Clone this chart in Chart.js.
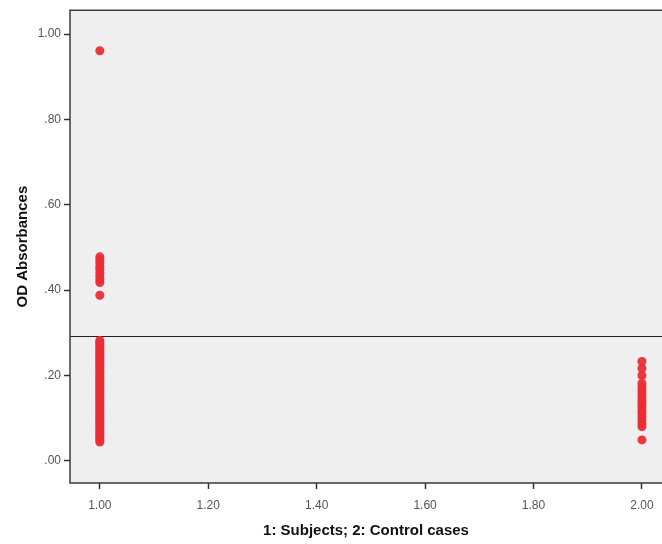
<!DOCTYPE html>
<html>
<head>
<meta charset="utf-8">
<script src="https://cdn.jsdelivr.net/npm/chart.js@4"></script>
<style>
  body { margin: 0; background: #ffffff; }
  canvas { display: block; }
</style>
</head>
<body>
<canvas id="grafica" width="662" height="544"></canvas>
<script>
// valores
const gruposX = [1, 2];
const sujetos = [0.961, 0.478, 0.472, 0.465, 0.456, 0.449, 0.441, 0.433, 0.425, 0.418, 0.388,
  0.282, 0.278, 0.273, 0.268, 0.263, 0.258, 0.254, 0.249, 0.245, 0.240, 0.236, 0.231, 0.226,
  0.222, 0.218, 0.213, 0.209, 0.204, 0.199, 0.195, 0.191, 0.186, 0.181, 0.177, 0.172, 0.168,
  0.163, 0.158, 0.154, 0.149, 0.145, 0.141, 0.136, 0.131, 0.127, 0.122, 0.118, 0.113, 0.108,
  0.104, 0.099, 0.095, 0.090, 0.086, 0.081, 0.077, 0.072, 0.067, 0.063, 0.058, 0.054, 0.049, 0.044];
const controles = [0.233, 0.217, 0.200, 0.182, 0.173, 0.165, 0.158, 0.150, 0.142,
  0.135, 0.127, 0.119, 0.112, 0.104, 0.096, 0.088, 0.080, 0.049];
const lineaCorte = 0.292;
const ticksY = [0, 0.2, 0.4, 0.6, 0.8, 1.0];
const ticksX = [1.0, 1.2, 1.4, 1.6, 1.8, 2.0];

const puntos = [
  ...sujetos.map((v) => ({ x: gruposX[0], y: v })),
  ...controles.map((v) => ({ x: gruposX[1], y: v })),
];

const fuente = "'Liberation Sans', Arial, sans-serif";

const fondo = {
  id: "fondo",
  beforeDatasetsDraw(chart) {
    const { ctx, chartArea: a, scales } = chart;
    ctx.save();
    ctx.fillStyle = "#efefef";
    ctx.fillRect(a.left, a.top, a.right - a.left, a.bottom - a.top);
    // linea de referencia
    const yl = Math.round(scales.y.getPixelForValue(lineaCorte)) + 0.5;
    ctx.strokeStyle = "#222";
    ctx.lineWidth = 1;
    ctx.beginPath();
    ctx.moveTo(a.left, yl);
    ctx.lineTo(a.right, yl);
    ctx.stroke();
    ctx.restore();
  },
  afterDraw(chart) {
    const { ctx, chartArea: a } = chart;
    ctx.save();
    ctx.strokeStyle = "#3a3a3a";
    ctx.lineWidth = 1.5;
    ctx.beginPath();
    ctx.moveTo(a.right, a.top);
    ctx.lineTo(a.left, a.top);
    ctx.lineTo(a.left, a.bottom);
    ctx.lineTo(a.right, a.bottom);
    ctx.stroke();
    ctx.restore();
  },
};

let ctx = document.getElementById("grafica").getContext("2d");
let grafica = new Chart(ctx, {
  type: "scatter",
  data: {
    datasets: [
      {
        data: puntos,
        backgroundColor: "rgba(236, 44, 52, 0.95)",
        borderWidth: 0,
        pointRadius: 4.5,
      },
    ],
  },
  options: {
    responsive: false,
    animation: false,
    layout: { autoPadding: false, padding: { top: 8, right: 0, left: 0, bottom: 0 } },
    plugins: { legend: { display: false }, tooltip: { enabled: false } },
    scales: {
      x: {
        type: "linear",
        min: 0.945,
        max: 2.037,
        afterBuildTicks: (s) => { s.ticks = ticksX.map((v) => ({ value: v })); },
        afterFit: (s) => { s.height = 61; s.paddingLeft = 0; s.paddingRight = 0; },
        grid: { drawOnChartArea: false, tickLength: 6, color: "#333", tickWidth: 1.5 },
        border: { display: false },
        ticks: {
          color: "#555",
          font: { family: fuente, size: 12 },
          padding: 9,
          maxRotation: 0,
          callback: (v) => v.toFixed(2),
        },
        title: {
          display: true,
          text: "1: Subjects; 2: Control cases",
          color: "#111",
          font: { family: fuente, size: 15, weight: "bold" },
          padding: { top: 8 },
        },
      },
      y: {
        min: -0.052,
        max: 1.056,
        afterBuildTicks: (s) => { s.ticks = ticksY.map((v) => ({ value: v })); },
        afterFit: (s) => { s.width = 70; },
        grid: { drawOnChartArea: false, tickLength: 6, color: "#333", tickWidth: 1.5 },
        border: { display: false },
        ticks: {
          color: "#555",
          font: { family: fuente, size: 12 },
          padding: 3,
          callback: (v) => v.toFixed(2).replace(/^0/, ""),
        },
        title: {
          display: true,
          text: "OD Absorbances",
          color: "#111",
          font: { family: fuente, size: 15, weight: "bold" },
          padding: { top: 14, bottom: 0 },
        },
      },
    },
  },
  plugins: [fondo],
});
</script>
</body>
</html>
